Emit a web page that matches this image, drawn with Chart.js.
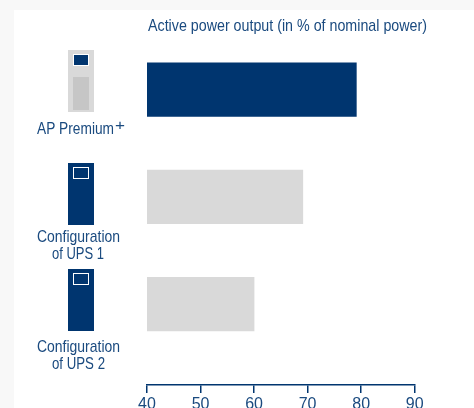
<!DOCTYPE html>
<html>
<head>
<meta charset="utf-8">
<style>
html,body{margin:0;padding:0;width:474px;height:408px;overflow:hidden;background:#f8f8f8}
#panel{position:absolute;left:14px;top:10px;width:460px;height:398px;background:#fff}
#c{position:absolute;left:0;top:0}
</style>
<script src="https://cdn.jsdelivr.net/npm/chart.js@4/dist/chart.umd.min.js"></script>
</head>
<body>
<div id="panel"></div>
<canvas id="c" width="474" height="408"></canvas>
<script>
const categories = ["AP Premium+", "Configuration of UPS 1", "Configuration of UPS 2"];
const values = [79.1, 69.1, 60];
const tickValues = [40, 50, 60, 70, 80, 90];
const axisTitle = "Active power output (in % of nominal power)";
const NAVY = "#00356f", GREY = "#d9d9d9", INNER = "#c6c6c6", TEXT = "#1a4a7f";
const FONT = '"Liberation Sans",sans-serif';

// condensed text: horizontally squeezed to the given width
function squeezed(g, text, x, y, width, size, align) {
  g.save();
  g.font = size + "px " + FONT;
  const w = g.measureText(text).width;
  const k = width / w;
  const left = align === "center" ? x - width / 2 : x;
  g.translate(left, y);
  g.scale(k, 1);
  g.textAlign = "left";
  g.textBaseline = "alphabetic";
  g.fillText(text, 0, 0);
  g.restore();
}

const decor = {
  id: "decor",
  afterDraw(chart) {
    const g = chart.ctx;
    g.save();
    const icons = [[50, GREY], [163, NAVY], [269, NAVY]];
    icons.forEach(([y, col], i) => {
      g.fillStyle = col;
      g.fillRect(68, y, 26, 62);
      if (i === 0) {
        g.fillStyle = INNER;
        g.fillRect(73, y + 27, 16, 33);
      }
      g.fillStyle = NAVY;
      g.fillRect(73, y + 4, 16, 12);
      g.strokeStyle = "#fff";
      g.lineWidth = 1;
      g.strokeRect(73.5, y + 4.5, 15, 11);
    });
    g.fillStyle = TEXT;
    squeezed(g, axisTitle, 148, 31, 279, 17, "left");
    squeezed(g, "AP Premium", 37, 134, 77, 17, "left");
    squeezed(g, "+", 115, 130, 10, 15, "left");
    squeezed(g, "Configuration", 37, 242, 83, 17, "left");
    squeezed(g, "of UPS 1", 52, 259, 52, 17, "left");
    squeezed(g, "Configuration", 37, 352, 83, 17, "left");
    squeezed(g, "of UPS 2", 52, 369, 53, 17, "left");
    g.restore();
  }
};

new Chart(document.getElementById("c"), {
  type: "bar",
  data: {
    datasets: [{
      data: values.map((v, i) => ({ x: v, y: i })),
      backgroundColor: [NAVY, GREY, GREY],
      borderWidth: 0,
      barThickness: 53.5
    }]
  },
  options: {
    indexAxis: "y",
    responsive: false,
    animation: false,
    layout: { padding: { left: 147, right: 59.3, top: 36, bottom: 0 } },
    plugins: { legend: { display: false }, tooltip: { enabled: false }, title: { display: false } },
    scales: {
      x: {
        type: "linear",
        position: "bottom",
        min: 40,
        max: 90,
        afterBuildTicks(s) { s.ticks = tickValues.map(v => ({ value: v })); },
        afterFit(s) { s.height = 23; },
        border: { display: true, color: NAVY, width: 1.5 },
        grid: { display: true, drawOnChartArea: false, drawTicks: true, tickLength: 8, color: NAVY, lineWidth: 1.5 },
        ticks: { color: TEXT, font: { family: FONT, size: 16 }, padding: 2, maxRotation: 0, autoSkip: false }
      },
      y: {
        type: "linear",
        display: false,
        reverse: true,
        offset: false,
        min: -0.5,
        max: 2.754
      }
    }
  },
  plugins: [decor]
});
</script>
</body>
</html>
